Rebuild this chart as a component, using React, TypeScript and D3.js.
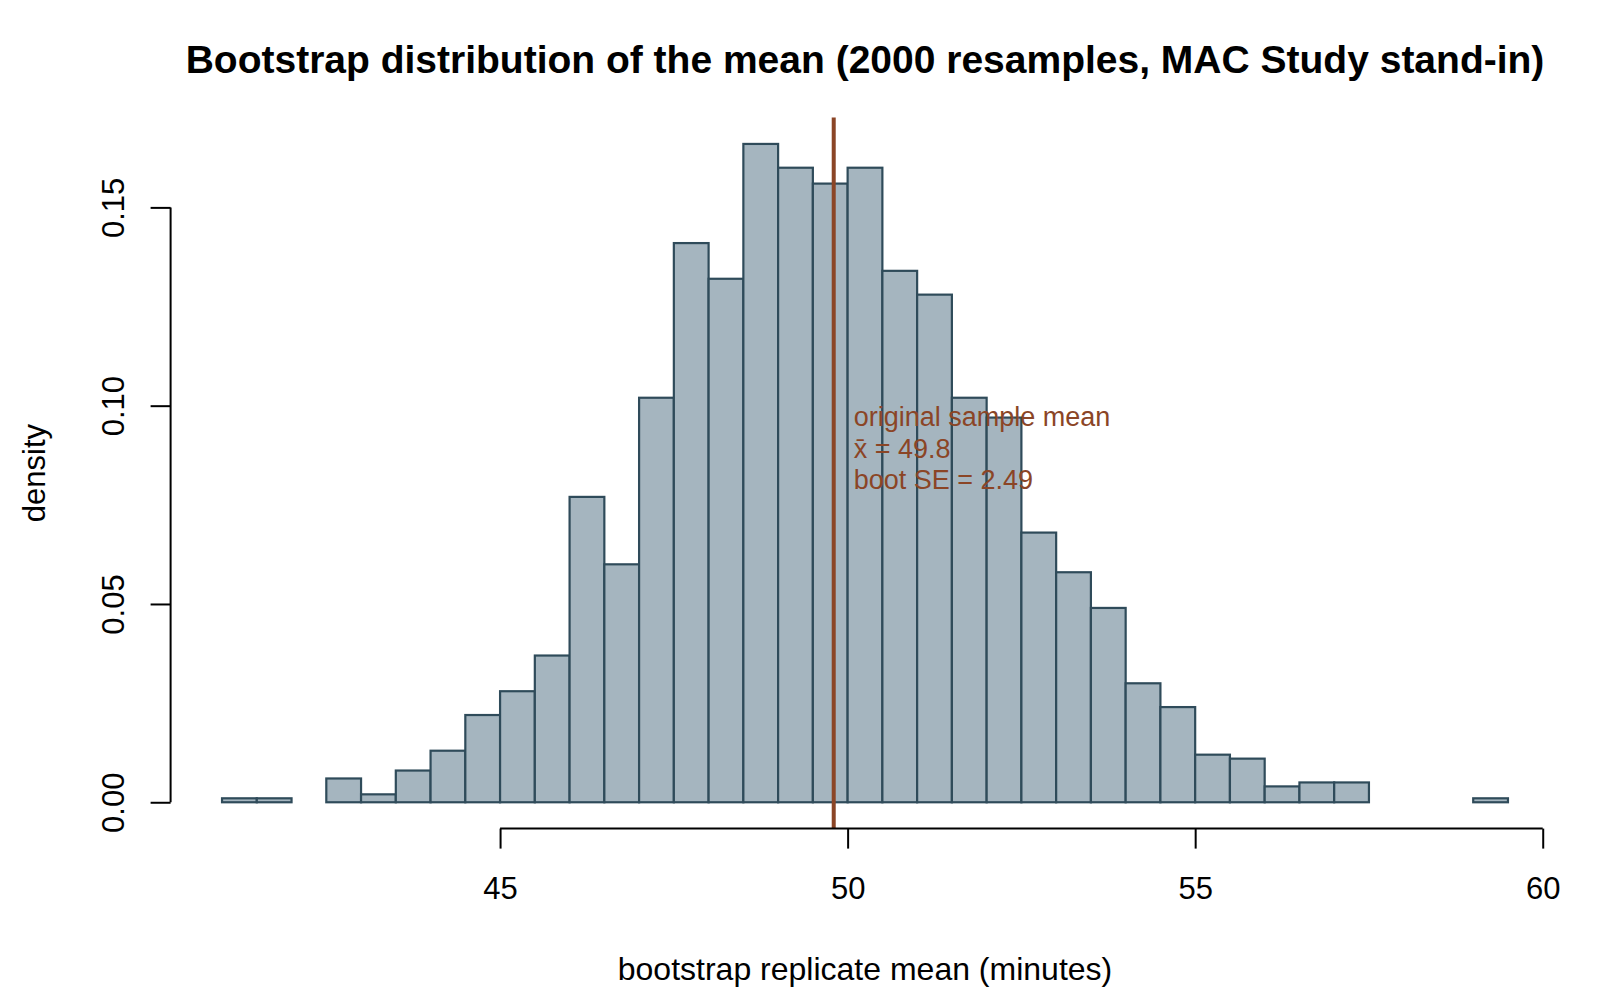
import React, { useEffect, useRef } from 'react';
import * as d3 from 'd3';

// histogram breaks (bin width 0.5) and densities
const breaks = [
  41, 41.5, 42, 42.5, 43, 43.5, 44, 44.5, 45, 45.5, 46, 46.5, 47, 47.5, 48, 48.5, 49, 49.5, 50,
  50.5, 51, 51.5, 52, 52.5, 53, 53.5, 54, 54.5, 55, 55.5, 56, 56.5, 57, 57.5, 58, 58.5, 59, 59.5,
];
const densities = [
  0.001, 0.001, 0, 0.006, 0.002, 0.008, 0.013, 0.022, 0.028, 0.037, 0.077, 0.06, 0.102, 0.141,
  0.132, 0.166, 0.16, 0.156, 0.16, 0.134, 0.128, 0.102, 0.097, 0.068, 0.058, 0.049, 0.03, 0.024,
  0.012, 0.011, 0.004, 0.005, 0.005, 0, 0, 0, 0.001,
];
const xTicks = [45, 50, 55, 60];
const yTicks = [0, 0.05, 0.1, 0.15];
const yTickLabels = ['0.00', '0.05', '0.10', '0.15'];
const sampleMean = 49.8;
const bootSE = 2.49;

const title = 'Bootstrap distribution of the mean (2000 resamples, MAC Study stand-in)';
const xLabel = 'bootstrap replicate mean (minutes)';
const yLabel = 'density';
const noteLines = ['original sample mean', `x\u0304 = ${sampleMean}`, `boot SE = ${bootSE}`];

const FONT = '"Liberation Sans", Arial, Helvetica, sans-serif';
const BAR_FILL = '#A5B5BF';
const BAR_STROKE = '#2F4B5A';
const MEAN_COL = '#8B4526';

const App: React.FC = () => {
  const svgRef = useRef<SVGSVGElement>(null);

  useEffect(() => {
    document.body.style.margin = '0';
    if (!svgRef.current) return;

    const width = 1600;
    const height = 1000;
    // plot region (R style, 4% padding on both scales)
    const plot = { left: 170.6, right: 1559.4, top: 117.6, bottom: 828.6 };

    const svg = d3.select(svgRef.current);
    svg.selectAll('*').remove();
    svg.attr('width', width).attr('height', height);

    svg.append('rect').attr('width', width).attr('height', height).attr('fill', '#fff');

    const lo = breaks[0];
    const hi = breaks[breaks.length - 1];
    const xPad = (hi - lo) * 0.04;
    const x = d3.scaleLinear()
      .domain([lo - xPad, hi + xPad])
      .range([plot.left, plot.right]);

    const yMax = d3.max(densities) || 0;
    const y = d3.scaleLinear()
      .domain([-yMax * 0.04, yMax * 1.04])
      .range([plot.bottom, plot.top]);

    // bars
    svg.append('g')
      .selectAll('rect')
      .data(densities)
      .enter().append('rect')
      .attr('x', (_, i) => x(breaks[i]))
      .attr('y', d => y(d))
      .attr('width', (_, i) => x(breaks[i + 1]) - x(breaks[i]))
      .attr('height', d => y(0) - y(d))
      .attr('fill', BAR_FILL)
      .attr('stroke', BAR_STROKE)
      .attr('stroke-width', 2.2);

    // mean line
    svg.append('line')
      .attr('x1', x(sampleMean))
      .attr('x2', x(sampleMean))
      .attr('y1', plot.top)
      .attr('y2', plot.bottom)
      .attr('stroke', MEAN_COL)
      .attr('stroke-width', 4);

    // annotation
    const note = svg.append('text')
      .attr('font-family', FONT)
      .attr('font-size', 27)
      .attr('fill', MEAN_COL);
    noteLines.forEach((t, i) => {
      note.append('tspan')
        .attr('x', x(sampleMean) + 20)
        .attr('y', 425.7 + i * 31.8)
        .text(t);
    });

    // x axis
    const xAxis = svg.append('g')
      .attr('transform', `translate(0,${plot.bottom})`)
      .call(d3.axisBottom(x).tickValues(xTicks).tickSize(20).tickSizeOuter(0).tickFormat(d3.format('d')));
    xAxis.select('.domain').remove();
    xAxis.append('line')
      .attr('x1', x(xTicks[0]))
      .attr('x2', x(xTicks[xTicks.length - 1]))
      .attr('stroke', '#000')
      .attr('stroke-width', 2);
    xAxis.selectAll('.tick line').attr('stroke', '#000').attr('stroke-width', 2);
    xAxis.selectAll('.tick text')
      .attr('y', 70)
      .attr('dy', null)
      .attr('fill', '#000')
      .attr('font-size', 31)
      .attr('font-family', FONT);

    // y axis
    const yAxis = svg.append('g')
      .attr('transform', `translate(${plot.left},0)`)
      .call(d3.axisLeft(y).tickValues(yTicks).tickSize(20).tickSizeOuter(0)
        .tickFormat((_, i) => yTickLabels[i]));
    yAxis.select('.domain').remove();
    yAxis.append('line')
      .attr('y1', y(yTicks[0]))
      .attr('y2', y(yTicks[yTicks.length - 1]))
      .attr('stroke', '#000')
      .attr('stroke-width', 2);
    yAxis.selectAll('.tick line').attr('stroke', '#000').attr('stroke-width', 2);
    yAxis.selectAll('.tick text')
      .attr('x', 0)
      .attr('y', -47)
      .attr('dy', null)
      .attr('transform', 'rotate(-90)')
      .attr('text-anchor', 'middle')
      .attr('fill', '#000')
      .attr('font-size', 31)
      .attr('font-family', FONT);

    // labels
    svg.append('text')
      .attr('x', (plot.left + plot.right) / 2)
      .attr('y', 73.3)
      .attr('text-anchor', 'middle')
      .attr('font-family', FONT)
      .attr('font-weight', 'bold')
      .attr('font-size', 39)
      .text(title);

    svg.append('text')
      .attr('x', (plot.left + plot.right) / 2)
      .attr('y', 980)
      .attr('text-anchor', 'middle')
      .attr('font-family', FONT)
      .attr('font-size', 32)
      .text(xLabel);

    svg.append('text')
      .attr('transform', `translate(45,${(plot.top + plot.bottom) / 2}) rotate(-90)`)
      .attr('text-anchor', 'middle')
      .attr('font-family', FONT)
      .attr('font-size', 31)
      .text(yLabel);
  }, []);

  return <svg ref={svgRef} style={{ display: 'block' }} />;
};

export default App;
